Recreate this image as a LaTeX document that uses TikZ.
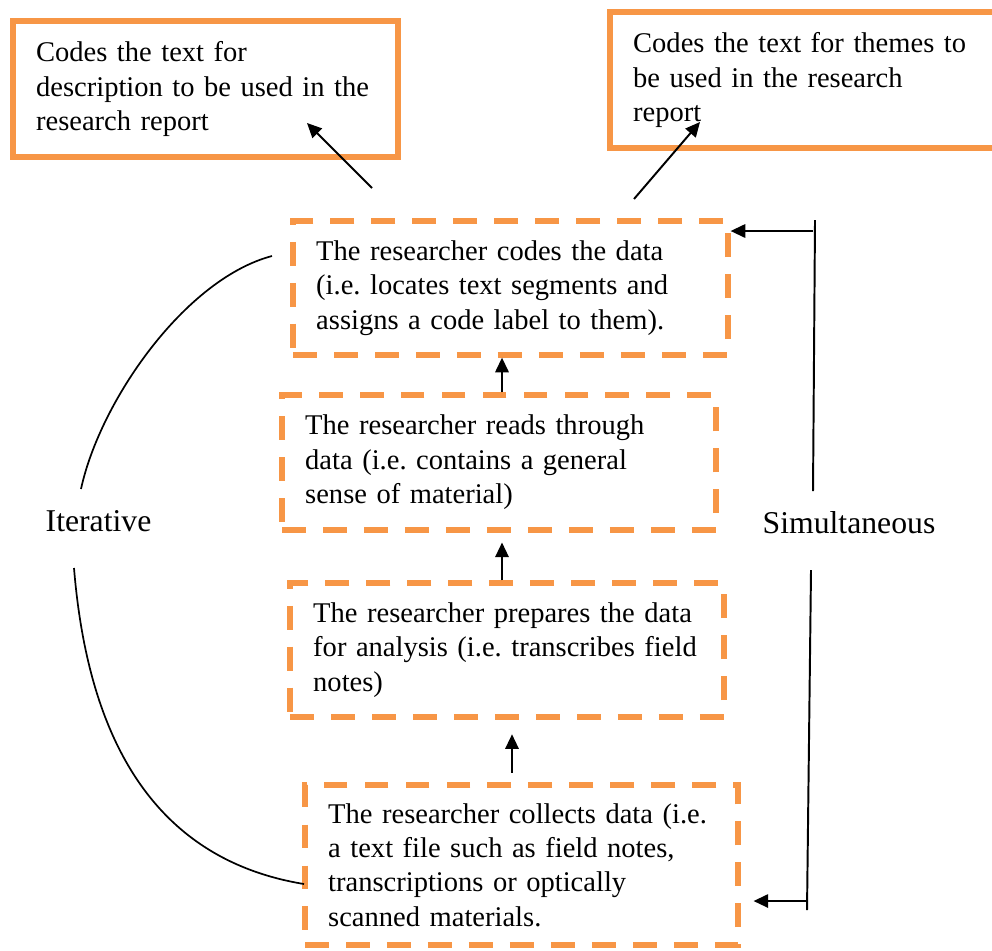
\documentclass[tikz,border=0pt]{standalone}
\usepackage{fontspec}
\setmainfont{Liberation Serif}
\usetikzlibrary{arrows.meta}
\definecolor{boxorange}{HTML}{F79646}
\frenchspacing

\begin{document}
\begin{tikzpicture}[x=0.41pt, y=-0.41pt, font=\fontsize{11.7}{14.1}\selectfont,
    solidbox/.style={rectangle, draw=boxorange, line width=2.7pt, align=left, inner xsep=9.5pt, minimum height=55.8pt},
    dashbox/.style={rectangle, draw=boxorange, line width=2.2pt, dash pattern=on 9.8pt off 7pt, align=left, inner xsep=9.5pt},
    sidelabel/.style={font=\fontsize{13}{15.6}\selectfont},
    arr/.style={-{Triangle[length=6pt,width=5.5pt]}, line width=0.8pt},
    loopline/.style={line width=0.7pt}]
  \useasboundingbox (0,0) rectangle (992,950);
  % report boxes
  \node[solidbox, text width=138.9pt] (desc) at (205.5,89) {Codes the text for\\ description to be used in the\\ research report};
  \node[solidbox, text width=145pt] (themes) at (810,80) {Codes the text for themes to\\ be used in the research\\ report};
  % steps
  \node[dashbox, text width=159.3pt, minimum height=54.9pt] (codes) at (510.5,288) {The researcher codes the data\\ (i.e. locates text segments and\\ assigns a code label to them).};
  \node[dashbox, text width=158.9pt, minimum height=55.4pt] (reads) at (499,462.5) {The researcher reads through\\ data (i.e. contains a general\\ sense of material)};
  \node[dashbox, text width=158.9pt, minimum height=54.9pt] (prepares) at (507,650) {The researcher prepares the data\\ for analysis (i.e. transcribes field\\ notes)};
  \node[dashbox, text width=158.5pt, minimum height=65.6pt] (collects) at (521.5,865) {The researcher collects data (i.e.\\ a text file such as field notes,\\ transcriptions or optically\\ scanned materials.};
  \node[sidelabel] (iter) at (98.5,521) {Iterative};
  \node[sidelabel] (simul) at (849,522.5) {Simultaneous};
  % upward flow
  \draw[arr] ([shift={(3,0)}]reads.north) -- ([shift={(3,0)}]reads.north |- codes.south);
  \draw[arr, shorten >=4pt] ([shift={(-5,0)}]prepares.north) -- ([shift={(-5,0)}]prepares.north |- reads.south);
  \draw[arr, shorten <=4pt, shorten >=6pt] ([shift={(-9.5,0)}]collects.north) -- ([shift={(-9.5,0)}]collects.north |- prepares.south);
  % arrows to the reports
  \coordinate (descTail) at (372,188);
  \coordinate (descTip) at (307,123);
  \coordinate (themeTail) at (634,199);
  \coordinate (themeTip) at (700,122);
  \draw[arr] (descTail) -- (descTip);
  \draw[arr] (themeTail) -- (themeTip);
  % iterative
  \coordinate (iterA) at (272,256);
  \coordinate (iterB) at (81,489);
  \coordinate (iterC) at (74,568);
  \coordinate (iterD) at (304,884);
  \draw[loopline] (iterA) .. controls (185,279) and (100,401) .. (iterB);
  \draw[loopline] (iterC) .. controls (87,727) and (146,858) .. (iterD);
  % simultaneous
  \coordinate (simA) at (815,220);
  \coordinate (simB) at (813,491);
  \coordinate (simC) at (811,570);
  \coordinate (simD) at (807,910);
  \coordinate (simTop) at (813,231);
  \coordinate (simBot) at (808,901);
  \draw[loopline, line width=0.8pt] (simA) -- (simB);
  \draw[loopline, line width=0.8pt] (simC) -- (simD);
  \draw[arr] (simTop) -- (simTop -| codes.east);
  \draw[arr, shorten >=5.3pt] (simBot) -- (simBot -| collects.east);
\end{tikzpicture}
\end{document}
